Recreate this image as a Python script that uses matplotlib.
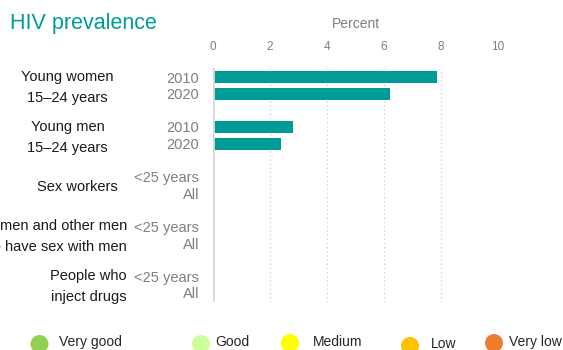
import matplotlib
matplotlib.use("Agg")
import matplotlib.pyplot as plt
from matplotlib.patches import Circle
from matplotlib.transforms import blended_transform_factory
import numpy as np

plt.rcParams['font.family'] = ['Liberation Sans', 'DejaVu Sans']

# ---- data ----
groups = ["Young women\n15\u201324 years", "Young men\n15\u201324 years", "Sex workers",
          "Gay men and other men\nwho have sex with men", "People who\ninject drugs"]
sub_labels = [["2010", "2020"], ["2010", "2020"], ["<25 years", "All"],
              ["<25 years", "All"], ["<25 years", "All"]]
values = [[7.85, 6.2], [2.82, 2.38], [np.nan, np.nan], [np.nan, np.nan], [np.nan, np.nan]]
x_ticks = [0, 2, 4, 6, 8, 10]

legend_labels = ["Very good", "Good", "Medium", "Low", "Very low"]
legend_colors = ["#92d050", "#ccff99", "#ffff00", "#ffc000", "#ed7d31"]

teal = "#009b96"
grey = "#7f7f7f"

W, H = 563, 350
fig = plt.figure(figsize=(W / 100, H / 100), dpi=100)

# overlay in pixel units for title and legend
bg = fig.add_axes([0, 0, 1, 1])
bg.set_xlim(0, W)
bg.set_ylim(H, 0)
bg.axis("off")

ax = fig.add_axes([213 / W, 1 - 302 / H, 285 / W, 234 / H])

off = 0.167
pos, labs = [], []
for g, (subs, vals) in enumerate(zip(sub_labels, values)):
    for j, (s, v) in enumerate(zip(subs, vals)):
        y = g + (j - 0.5) * 2 * off
        pos.append(y)
        labs.append(s)
        if not np.isnan(v):
            ax.barh(y, v, height=0.24, color=teal, zorder=3)

ax.set_xlim(0, 10)
ax.set_ylim(4.352, -0.352)
ax.set_yticks(pos)
ax.set_yticklabels(labs, color=grey, fontsize=10.5)
ax.tick_params(axis="y", length=0, pad=10)

ax.xaxis.tick_top()
ax.xaxis.set_label_position("top")
ax.set_xticks(x_ticks)
ax.set_xticklabels([str(t) for t in x_ticks], color=grey, fontsize=8.5)
ax.tick_params(axis="x", length=0, pad=11)
ax.set_xlabel("Percent", color=grey, fontsize=10, labelpad=9)

for s in ax.spines.values():
    s.set_visible(False)
ax.axvline(0, color="#d9d9d9", lw=2, zorder=4)
for t in x_ticks[1:]:
    ax.axvline(t, color="#d0d0d0", lw=1, ls=(0, (1, 2)), zorder=1)

# group labels
tr = blended_transform_factory(fig.transFigure, ax.transData)
anchors = [(67.5, "center"), (67.5, "center"), (77, "center"), (127, "right"), (127, "right")]
for g, (name, (xp, ha)) in enumerate(zip(groups, anchors)):
    ax.text(xp / W, g + 0.04, name, transform=tr, ha=ha, va="center", multialignment=ha,
            fontsize=10.5, color="#1a1a1a", linespacing=1.6, clip_on=False)

bg.text(10, 23, "HIV prevalence", color=teal, fontsize=15.5, va="center", ha="left")

# legend
circ_x = [39.5, 201, 290, 410, 494]
circ_y = [344, 344, 343, 346, 343]
text_x = [59, 215, 313, 431, 509]
text_y = [342, 342, 342, 344.5, 342]
for lab, col, cx, cy, tx, ty in zip(legend_labels, legend_colors, circ_x, circ_y, text_x, text_y):
    bg.add_patch(Circle((cx, cy), 9, color=col, lw=0))
    bg.text(tx, ty, lab, fontsize=10, color="#262626", va="center", ha="left")

fig.savefig("out.png", dpi=100)
